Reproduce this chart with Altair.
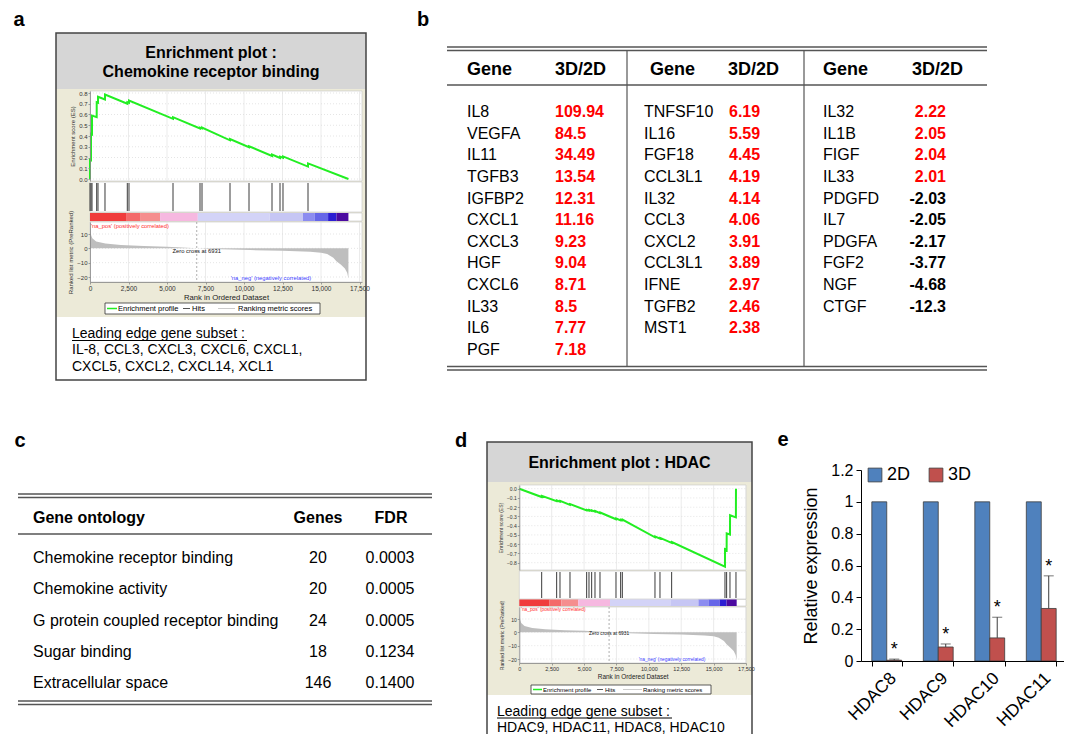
import altair as alt
import pandas as pd

FONT = "Liberation Sans"
W, H = 1056, 726


def P(v):
    return v - 8


# ---------------- data ----------------
# (a) GSEA: Chemokine receptor binding -- running enrichment score
a_es_rank = [0, 1, 65, 66, 130, 131, 435, 436, 519, 520, 974, 975, 2422, 2423, 2532, 2533,
             5390, 5391, 7143, 7144, 7273, 7274, 9091, 9092, 10325, 10326, 11818, 11819,
             12338, 12339, 12532, 12533, 14156, 14157, 16780]
a_es_value = [0, 0.18, 0.175, 0.42, 0.415, 0.59, 0.575, 0.715, 0.71, 0.765, 0.74, 0.785,
              0.70, 0.715, 0.709, 0.73, 0.56, 0.575, 0.47, 0.478, 0.471, 0.478, 0.36, 0.372,
              0.295, 0.305, 0.215, 0.228, 0.195, 0.208, 0.198, 0.21, 0.115, 0.145, 0]
a_hits = [0, 65, 130, 435, 519, 974, 2422, 2532, 5390, 7143, 7273, 9091, 10325, 11818,
          12338, 12532, 14156]
a_lead = ["IL-8, CCL3, CXCL3, CXCL6, CXCL1,", "CXCL5, CXCL2, CXCL14, XCL1"]

# (d) GSEA: HDAC -- running enrichment score
d_es_rank = [0, 1727, 1737, 2884, 2894, 3141, 3151, 3913, 3923, 5200, 5210, 5380, 5390,
             5586, 5596, 5843, 5853, 6229, 6239, 7464, 7474, 7824, 7834, 7953, 7963,
             10474, 10484, 10860, 10870, 11760, 11770, 15877, 15880, 16005, 16010,
             16263, 16270, 16720, 16726]
d_es_value = [0, -0.09, -0.078, -0.135, -0.127, -0.14, -0.132, -0.175, -0.167, -0.235,
              -0.228, -0.237, -0.23, -0.241, -0.234, -0.248, -0.241, -0.264, -0.257,
              -0.33, -0.322, -0.343, -0.335, -0.342, -0.334, -0.525, -0.517, -0.54,
              -0.532, -0.585, -0.577, -0.843, -0.655, -0.665, -0.483, -0.495, -0.287,
              -0.31, 0]
d_hits = [1727, 2884, 3141, 3913, 5200, 5380, 5586, 5843, 6229, 7464, 7824, 7953, 10474,
          10860, 11760, 15877, 16005, 16263, 16726]
d_lead = ["HDAC9, HDAC11, HDAC8, HDAC10"]

# ranked list metric (same pre-ranked dataset in both GSEA plots)
metric_rank = [0, 30, 80, 150, 400, 1000, 2000, 3500, 5000, 6931, 8500, 10400, 12500,
               14300, 15000, 15400, 15800, 16000, 16300, 16550, 16700, 16780]
metric_value = [14, 12, 9, 7, 4.7, 3.3, 2.4, 1.6, 1.1, 0, -0.6, -1.2, -1.7, -2.4, -3.0,
                -4.0, -6.5, -9.0, -11.5, -14, -17, -21]
zero_cross = 6931

# heat-map bar under the hits
heat_start = [0, 2340, 3250, 4550, 7000, 11660, 13830, 14600, 15460, 16000]
heat_end = [2340, 3250, 4550, 7000, 11660, 13830, 14600, 15460, 16000, 16780]
heat_color = ["#F03C3C", "#F46A6A", "#F58E8E", "#F6B8E0", "#D3D3F7", "#C6C6F4",
              "#8C8CF0", "#6666E8", "#2C1ED2", "#4B0AA0"]

# (b) genes 3D/2D
b_gene_1 = ["IL8", "VEGFA", "IL11", "TGFB3", "IGFBP2", "CXCL1", "CXCL3", "HGF", "CXCL6",
            "IL33", "IL6", "PGF"]
b_ratio_1 = [109.94, 84.5, 34.49, 13.54, 12.31, 11.16, 9.23, 9.04, 8.71, 8.5, 7.77, 7.18]
b_gene_2 = ["TNFSF10", "IL16", "FGF18", "CCL3L1", "IL32", "CCL3", "CXCL2", "CCL3L1", "IFNE",
            "TGFB2", "MST1"]
b_ratio_2 = [6.19, 5.59, 4.45, 4.19, 4.14, 4.06, 3.91, 3.89, 2.97, 2.46, 2.38]
b_gene_3 = ["IL32", "IL1B", "FIGF", "IL33", "PDGFD", "IL7", "PDGFA", "FGF2", "NGF", "CTGF"]
b_ratio_3 = [2.22, 2.05, 2.04, 2.01, -2.03, -2.05, -2.17, -3.77, -4.68, -12.3]

# (c) gene ontology
c_terms = ["Chemokine receptor binding", "Chemokine activity",
           "G protein coupled receptor binding", "Sugar binding", "Extracellular space"]
c_genes = [20, 20, 24, 18, 146]
c_fdr = [0.0003, 0.0005, 0.0005, 0.1234, 0.1400]

# (e) relative expression
e_genes = ["HDAC8", "HDAC9", "HDAC10", "HDAC11"]
e_2d = [1, 1, 1, 1]
e_3d = [0.005, 0.088, 0.145, 0.33]
e_3d_err = [0.007, 0.019, 0.13, 0.205]

# ---------------- helpers ----------------
ONE = pd.DataFrame({"k": [0]})


def lin_scale(dom, pix):
    return alt.Scale(domain=list(dom), range=[P(p) for p in pix], nice=False, zero=False)


def span(m, top, bot):
    (v1, p1), (v2, p2) = m
    k = (v2 - v1) / (p2 - p1)
    return [v1 + (bot - p1) * k, v1 + (top - p1) * k]


def rect(x0, y0, x1, y1, fill, stroke=None, sw=1.0):
    kw = dict(fill=fill)
    if stroke:
        kw.update(stroke=stroke, strokeWidth=sw)
    return alt.Chart(ONE).mark_rect(**kw).encode(
        x=alt.value(P(x0)), x2=alt.value(P(x1)), y=alt.value(P(y0)), y2=alt.value(P(y1)))


def frame(x0, y0, x1, y1, stroke, sw):
    return alt.Chart(ONE).mark_rect(filled=False, stroke=stroke, strokeWidth=sw).encode(
        x=alt.value(P(x0)), x2=alt.value(P(x1)), y=alt.value(P(y0)), y2=alt.value(P(y1)))


def hrule(x0, x1, y, color="#555555", sw=1.2, dash=None):
    kw = dict(color=color, strokeWidth=sw)
    if dash:
        kw["strokeDash"] = dash
    return alt.Chart(ONE).mark_rule(**kw).encode(
        x=alt.value(P(x0)), x2=alt.value(P(x1)), y=alt.value(P(y)))


def vrule(x, y0, y1, color="#555555", sw=1.2):
    return alt.Chart(ONE).mark_rule(color=color, strokeWidth=sw).encode(
        x=alt.value(P(x)), y=alt.value(P(y0)), y2=alt.value(P(y1)))


def txt(x, y, s, size, weight="normal", color="black", align="left", baseline="middle"):
    return alt.Chart(ONE).mark_text(
        text=s, font=FONT, fontSize=size, fontWeight=weight, color=color,
        align=align, baseline=baseline).encode(x=alt.value(P(x)), y=alt.value(P(y)))


layers = []

# ---------------- GSEA panels ----------------
XTICKS = list(range(0, 17501, 2500))


def gsea(g, es_rank, es_val, hits, lead):
    L = []
    fx0, fy0, fx1, fy1 = g["frame"]
    px0, px1 = g["px"]
    L.append(rect(fx0, fy0, fx1, fy1, "white"))
    L.append(rect(fx0, fy0, fx1, g["ty1"], "#D6D6D6"))
    L.append(rect(fx0, g["ty1"], fx1, g["by1"], "#ECEAD8"))
    for s, y in g["title"]:
        L.append(txt((fx0 + fx1) / 2, y, s, 16, weight="bold", align="center"))

    def xs():
        return lin_scale([0, g["xmax"]], [px0, px1])

    def yaxis(title, fmt, vals):
        return alt.Axis(orient="left", offset=-P(px0), values=vals, format=fmt,
                        labelFontSize=g["lab"], labelFont=FONT, labelColor="#333333",
                        labelPadding=1, tickSize=2, tickColor="#888888", tickWidth=0.8,
                        domainColor="#888888", domainWidth=0.8, grid=False,
                        labelOverlap=False, title=title, titleFont=FONT,
                        titleFontSize=g["lab"], titleFontWeight="normal",
                        titleColor="#333333", titlePadding=3, zindex=2)

    def vgrid(ys, dom):
        return alt.Chart(pd.DataFrame({"t": XTICKS})).mark_rule(
            color="#E2E2E2", strokeWidth=0.7).encode(
            x=alt.X("t:Q", scale=xs(), axis=None),
            y=alt.YDatum(dom[0], scale=ys, axis=None, type="quantitative"),
            y2=alt.Y2Datum(dom[1]))

    def hgrid(vals, ys):
        return alt.Chart(pd.DataFrame({"t": vals})).mark_rule(
            color="#DADADA", strokeWidth=0.7, strokeDash=[1, 2]).encode(
            y=alt.Y("t:Q", scale=ys, axis=None),
            x=alt.XDatum(0, scale=xs(), axis=None, type="quantitative"),
            x2=alt.X2Datum(g["xmax"]))

    # enrichment score
    et, eb = g["es_box"]
    edom = span(g["es_map"], et, eb)

    def ys_es():
        return alt.Scale(domain=edom, range=[P(eb), P(et)], nice=False, zero=False)

    L.append(rect(px0, et, px1, eb, "white", "#C8C8C8", 0.6))
    L.append(vgrid(ys_es(), edom))
    L.append(hgrid(g["es_ticks"], ys_es()))
    es_df = pd.DataFrame({"rank": es_rank, "es": es_val})
    L.append(alt.Chart(es_df).mark_line(color="#22EE22", strokeWidth=2).encode(
        x=alt.X("rank:Q", scale=xs(), axis=None),
        y=alt.Y("es:Q", scale=ys_es(),
                axis=yaxis("Enrichment score (ES)", ".1f", g["es_ticks"]))))

    # hits
    ht, hb = g["hits_box"]
    L.append(rect(px0, ht, px1, hb, "white", "#C8C8C8", 0.6))
    L.append(alt.Chart(pd.DataFrame({"h": hits})).mark_rule(
        color="#3A3A3A", strokeWidth=1).encode(
        x=alt.X("h:Q", scale=xs(), axis=None),
        y=alt.value(P(ht + 1)), y2=alt.value(P(hb - 1))))

    # heat bar
    bt, bb = g["bar_box"]
    L.append(rect(px0, bt, px1, bb, "white", "#C8C8C8", 0.6))
    heat_df = pd.DataFrame({"s": heat_start, "e": heat_end, "c": heat_color})
    L.append(alt.Chart(heat_df).mark_rect().encode(
        x=alt.X("s:Q", scale=xs(), axis=None), x2="e:Q",
        y=alt.value(P(bt)), y2=alt.value(P(bb)),
        color=alt.Color("c:N", scale=None)))

    # ranked list metric
    mt, mb = g["met_box"]
    mdom = span(g["met_map"], mt, mb)

    def ys_m():
        return alt.Scale(domain=mdom, range=[P(mb), P(mt)], nice=False, zero=False)

    L.append(rect(px0, mt, px1, mb, "white", "#C8C8C8", 0.6))
    L.append(vgrid(ys_m(), mdom))
    L.append(hgrid([10, 0, -10, -20], ys_m()))
    met_df = pd.DataFrame({"rank": metric_rank, "m": metric_value})
    L.append(alt.Chart(met_df).mark_area(color="#BEBEBE").encode(
        x=alt.X("rank:Q", scale=xs(),
                axis=alt.Axis(orient="bottom", offset=P(mb) - H, values=XTICKS,
                              format=",d", labelFontSize=g["lab"] + 0.5, labelFont=FONT,
                              labelColor="#333333", labelPadding=1, labelFlush=False,
                              labelOverlap=False, tickSize=2, tickColor="#888888",
                              tickWidth=0.8, domainColor="#888888", domainWidth=0.8,
                              grid=False, title="Rank in Ordered Dataset",
                              titleFont=FONT, titleFontSize=g["axt"],
                              titleFontWeight="normal", titleColor="#222222",
                              titlePadding=2, zindex=2)),
        y=alt.Y("m:Q", scale=ys_m(),
                axis=yaxis("Ranked list metric (PreRanked)", "d", [10, 0, -10, -20])),
        y2=alt.Y2Datum(0)))
    L.append(alt.Chart(ONE).mark_rule(color="#999999", strokeWidth=0.8,
                                      strokeDash=[2, 2]).encode(
        x=alt.XDatum(zero_cross, scale=xs(), axis=None, type="quantitative"),
        y=alt.value(P(mt)), y2=alt.value(P(mb))))
    L.append(alt.Chart(ONE).mark_text(
        text=f"Zero cross at {zero_cross}", font=FONT, fontSize=g["small"],
        color="#111111", align="center", baseline="middle").encode(
        x=alt.XDatum(zero_cross, scale=xs(), axis=None, type="quantitative"),
        y=alt.value(P(g["zero_y"]))))
    L.append(txt(g["na_pos"][0], g["na_pos"][1], "'na_pos' (positively correlated)",
                 g["small"], color="#FF2A2A"))
    L.append(txt(g["na_neg"][0], g["na_neg"][1], "'na_neg' (negatively correlated)",
                 g["small"], color="#3A3AFF", align="center"))

    # legend box
    lg = g["legend"]
    x0, y0, x1, y1 = lg["box"]
    yc = (y0 + y1) / 2
    L.append(rect(x0, y0, x1, y1, "white", "#333333", 0.8))
    L.append(hrule(lg["green"][0], lg["green"][1], yc, "#22EE22", 1.5))
    L.append(hrule(lg["hits"][0], lg["hits"][1], yc, "#555555", 1))
    L.append(hrule(lg["rank"][0], lg["rank"][1], yc, "#CCCCCC", 1))
    L.append(txt(lg["t1"], yc, "Enrichment profile", lg["size"]))
    L.append(txt(lg["t2"], yc, "Hits", lg["size"]))
    L.append(txt(lg["t3"], yc, "Ranking metric scores", lg["size"]))

    # leading edge subset
    ld = g["lead"]
    L.append(txt(ld["x"], ld["y"][0], "Leading edge gene subset :", ld["size"]))
    ux0, ux1, uy = ld["under"]
    L.append(hrule(ux0, ux1, uy, "black", 1))
    for s, y in zip(lead, ld["y"][1:]):
        L.append(txt(ld["x"], y, s, ld["size"]))

    L.append(frame(fx0, fy0, fx1, fy1, "#444444", 1.5))
    return L


GA = dict(
    frame=(56, 33, 366, 380), ty1=89, by1=317,
    title=[("Enrichment plot :", 53), ("Chemokine receptor binding", 72)],
    px=(90, 362), xmax=17662,
    es_box=(91, 181), es_map=((0.0, 179), (0.8, 93)),
    es_ticks=[0, 0.1, 0.2, 0.3, 0.4, 0.5, 0.6, 0.7, 0.8],
    hits_box=(182, 212), bar_box=(213, 221),
    met_box=(222, 282), met_map=((10, 234), (-20, 277)),
    lab=6, axt=7.7, small=5.8, zero_y=251,
    na_pos=(91, 225.5), na_neg=(271, 278),
    legend=dict(box=(105, 303, 320, 314), green=(107, 117), hits=(183, 190),
                rank=(218, 235), t1=118, t2=192, t3=238, size=7.5),
    lead=dict(x=72, y=[334, 350, 367], under=(72, 247, 340.5), size=14),
)

GD = dict(
    frame=(487, 442, 752, 745), ty1=482, by1=695,
    title=[("Enrichment plot : HDAC", 463)],
    px=(519.3, 746), xmax=17500,
    es_box=(485, 570), es_map=((0.0, 488.7), (-0.8, 562.7)),
    es_ticks=[0, -0.1, -0.2, -0.3, -0.4, -0.5, -0.6, -0.7, -0.8],
    hits_box=(571, 599), bar_box=(599.5, 606),
    met_box=(607, 663), met_map=((10, 619), (-20, 659)),
    lab=5, axt=6.4, small=4.8, zero_y=634,
    na_pos=(521, 609.5), na_neg=(672, 660),
    legend=dict(box=(531, 685, 711, 694), green=(533, 542), hits=(597, 603),
                rank=(623, 642), t1=543, t2=605, t3=643, size=6),
    lead=dict(x=497, y=[712, 728], under=(497, 672, 718), size=14),
)

layers += gsea(GA, a_es_rank, a_es_value, a_hits, a_lead)
layers += gsea(GD, d_es_rank, d_es_value, d_hits, d_lead)

# ---------------- panel b table ----------------
for y in (47, 50.5, 85, 366.5, 370):
    layers.append(hrule(447, 987, y, "#555555", 1.3))
layers.append(vrule(627, 50.5, 366.5))
layers.append(vrule(804, 50.5, 366.5))
for x, s in ((467, "Gene"), (555, "3D/2D"), (650, "Gene"), (728, "3D/2D"),
             (823, "Gene"), (912, "3D/2D")):
    layers.append(txt(x, 70, s, 18, weight="bold"))

for genes, ratios, gx, vx, va in ((b_gene_1, b_ratio_1, 467, 555, "left"),
                                  (b_gene_2, b_ratio_2, 644, 729, "left"),
                                  (b_gene_3, b_ratio_3, 823, 946, "right")):
    df = pd.DataFrame({"row": list(range(len(genes))), "gene": genes, "v": ratios})
    layers.append(alt.Chart(df).mark_text(
        font=FONT, fontSize=16, align="left", baseline="middle", color="black").encode(
        x=alt.value(P(gx)),
        y=alt.Y("row:Q", scale=lin_scale([0, 11], [112, 350]), axis=None),
        text="gene:N"))
    layers.append(alt.Chart(df).mark_text(
        font=FONT, fontSize=16, fontWeight="bold", align=va, baseline="middle").encode(
        x=alt.value(P(vx)),
        y=alt.Y("row:Q", scale=lin_scale([0, 11], [112, 350]), axis=None),
        text="v:N",
        color=alt.condition("datum.v > 0", alt.value("#FF0000"), alt.value("#000000"))))

# ---------------- panel c table ----------------
for y in (494, 497.5, 534, 701, 704.5):
    layers.append(hrule(18, 432, y, "#555555", 1.3))
layers.append(txt(33, 518, "Gene ontology", 16, weight="bold"))
layers.append(txt(318, 518, "Genes", 16, weight="bold", align="center"))
layers.append(txt(391, 518, "FDR", 16, weight="bold", align="center"))
c_df = pd.DataFrame({"row": list(range(len(c_terms))), "term": c_terms,
                     "n": c_genes, "fdr": c_fdr})
for field, x, al, fmt in (("term:N", 33, "left", None), ("n:N", 318, "center", None),
                          ("fdr:Q", 390, "center", ".4f")):
    tx = alt.Text(field, format=fmt) if fmt else alt.Text(field)
    layers.append(alt.Chart(c_df).mark_text(
        font=FONT, fontSize=16, align=al, baseline="middle", color="black").encode(
        x=alt.value(P(x)),
        y=alt.Y("row:Q", scale=lin_scale([0, 4], [558, 683]), axis=None),
        text=tx))

# ---------------- panel e bars ----------------
e_df = pd.DataFrame({"gene": e_genes * 2, "cond": ["2D"] * 4 + ["3D"] * 4,
                     "val": e_2d + e_3d})
err_df = pd.DataFrame({"gene": e_genes, "val": e_3d,
                       "hi": [v + e for v, e in zip(e_3d, e_3d_err)]})


def band(shift=0.0):
    return alt.Scale(domain=e_genes, range=[P(861) + shift, P(1067) + shift],
                     paddingInner=0.42, paddingOuter=0.21)


def ey():
    return lin_scale([0, 1.2], [661, 470])


SHIFT = 7.47
layers.append(alt.Chart(e_df).mark_bar(stroke="#3C3C3C", strokeWidth=0.8).encode(
    x=alt.X("gene:N", scale=band(),
            axis=alt.Axis(orient="bottom", offset=P(661) - H, labelAngle=-45,
                          labelFont=FONT, labelFontSize=17.5, labelColor="black",
                          labelPadding=3, tickBand="extent", tickSize=5,
                          tickColor="black", domainColor="black", title=None,
                          grid=False, zindex=2)),
    xOffset=alt.XOffset("cond:N", scale=alt.Scale(domain=["2D", "3D"], paddingInner=0,
                                                  paddingOuter=0)),
    y=alt.Y("val:Q", scale=ey(),
            axis=alt.Axis(orient="left", offset=-P(861),
                          values=[0, 0.2, 0.4, 0.6, 0.8, 1.0, 1.2], format="~g",
                          labelFont=FONT, labelFontSize=16, labelColor="black",
                          labelPadding=3, tickSize=5, tickColor="black",
                          domainColor="black", grid=False, title="Relative expression",
                          titleFont=FONT, titleFontSize=18, titleFontWeight="normal",
                          titleColor="black", titlePadding=10, zindex=2)),
    color=alt.Color("cond:N", scale=alt.Scale(domain=["2D", "3D"],
                                             range=["#4F81BD", "#C0504D"]),
                    legend=alt.Legend(title=None, orient="none", legendX=P(866),
                                      legendY=P(466), direction="horizontal",
                                      labelFont=FONT, labelFontSize=18,
                                      labelColor="black", symbolType="square",
                                      symbolSize=190, symbolStrokeColor="#3C3C3C",
                                      symbolStrokeWidth=0.8, columnPadding=16,
                                      labelOffset=3))))
layers.append(alt.Chart(err_df).mark_rule(color="#3C3C3C", strokeWidth=1).encode(
    x=alt.X("gene:N", scale=band(SHIFT), axis=None),
    y=alt.Y("val:Q", scale=ey(), axis=None), y2="hi:Q"))
layers.append(alt.Chart(err_df).mark_tick(color="#3C3C3C", thickness=1, size=10).encode(
    x=alt.X("gene:N", scale=band(SHIFT), axis=None),
    y=alt.Y("hi:Q", scale=ey(), axis=None)))
layers.append(alt.Chart(err_df).mark_text(
    text="*", font=FONT, fontSize=18, baseline="alphabetic", dy=-4, color="black").encode(
    x=alt.X("gene:N", scale=band(SHIFT), axis=None),
    y=alt.Y("hi:Q", scale=ey(), axis=None)))

# ---------------- panel letters ----------------
for s, x, y in (("a", 19, 26), ("b", 423, 26), ("c", 20, 447), ("d", 461, 447),
                ("e", 783, 446)):
    layers.append(txt(x, y, s, 20, weight="bold", align="center", baseline="alphabetic"))

chart = alt.layer(*layers).resolve_scale(
    x="independent", y="independent", color="independent", xOffset="independent"
).properties(
    width=W, height=H, autosize=alt.AutoSizeParams(type="none"), padding=0,
    background="white"
).configure_view(stroke=None)

chart.save("out.html", embed_options={"renderer": "svg", "actions": False})
